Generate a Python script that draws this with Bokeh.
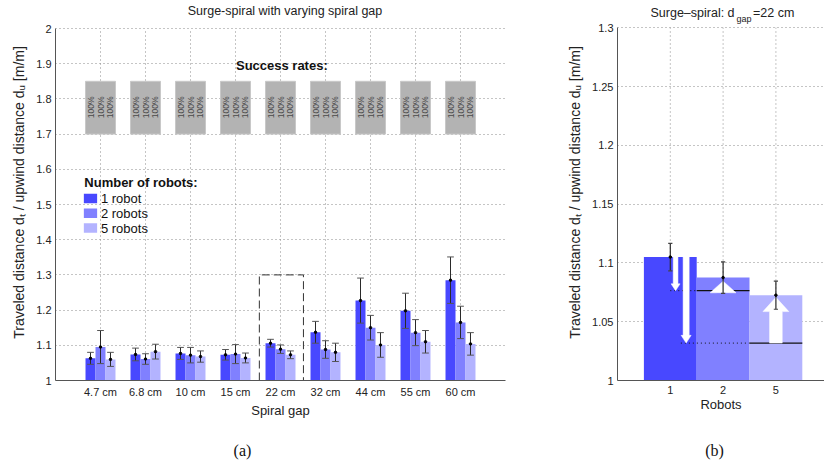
import math
from bokeh.plotting import figure
from bokeh.layouts import row, column
from bokeh.models import FixedTicker, Range1d
from bokeh.core.properties import value
from bokeh.embed import file_html
from bokeh.resources import INLINE

FONT = "Liberation Sans"
SERIF = "Liberation Serif"

# ---------------- data (left panel) ----------------
gaps = ["4.7 cm", "6.8 cm", "10 cm", "15 cm", "22 cm", "32 cm", "44 cm", "55 cm", "60 cm"]
mean_1 = [1.063, 1.074, 1.077, 1.073, 1.106, 1.137, 1.227, 1.198, 1.285]
mean_2 = [1.095, 1.061, 1.072, 1.075, 1.089, 1.088, 1.150, 1.136, 1.165]
mean_5 = [1.060, 1.082, 1.068, 1.064, 1.073, 1.080, 1.101, 1.110, 1.104]
err_1 = [0.017, 0.018, 0.017, 0.015, 0.011, 0.031, 0.064, 0.050, 0.066]
err_2 = [0.047, 0.015, 0.022, 0.027, 0.012, 0.025, 0.035, 0.037, 0.046]
err_5 = [0.020, 0.021, 0.016, 0.014, 0.011, 0.026, 0.035, 0.032, 0.032]
success_1 = [100, 100, 100, 100, 100, 100, 100, 100, 100]
success_2 = [100, 100, 100, 100, 100, 100, 100, 100, 100]
success_5 = [100, 100, 100, 100, 100, 100, 100, 100, 100]
series_names = ["1 robot", "2 robots", "5 robots"]
y_ticks_left = [1.0, 1.1, 1.2, 1.3, 1.4, 1.5, 1.6, 1.7, 1.8, 1.9, 2.0]
y_labels_left = ["1", "1.1", "1.2", "1.3", "1.4", "1.5", "1.6", "1.7", "1.8", "1.9", "2"]

# ---------------- data (right panel, d_gap = 22 cm) ----------------
robots = ["1", "2", "5"]
mean_22 = [1.105, 1.0875, 1.0726]
err_22 = [0.0117, 0.0134, 0.0120]
expected_22 = [1.105, 1.0764, 1.0318]   # ideal levels (1-robot distance shared)
y_ticks_right = [1.0, 1.05, 1.1, 1.15, 1.2, 1.25, 1.3]
y_labels_right = ["1", "1.05", "1.1", "1.15", "1.2", "1.25", "1.3"]

captions = ["(a)", "(b)"]

COLORS = ["#4848ff", "#8080ff", "#b3b3ff"]
GRID = "#8a8a8a"
AX = "#555555"


def style_axes(p, fs="11px"):
    for ax in (p.xaxis[0], p.yaxis[0]):
        ax.axis_line_color = AX
        ax.major_tick_in = 0
        ax.major_tick_out = 0
        ax.minor_tick_line_color = None
        ax.major_label_text_font = FONT
        ax.major_label_text_font_size = fs
        ax.major_label_text_color = "#222222"
        ax.axis_label_text_font = FONT
        ax.axis_label_text_font_style = "normal"
        ax.axis_label_text_font_size = "13px"
        ax.axis_label_text_color = "#222222"
    p.yaxis.axis_label_text_font_size = "14px"
    p.xgrid.grid_line_color = None
    p.ygrid.grid_line_color = GRID
    p.ygrid.grid_line_dash = "1 3"
    p.outline_line_color = None
    p.background_fill_color = "white"
    p.border_fill_color = "white"


# ================= left panel =================
SCALE_L = 352.0
YTOP_L = 2.0 + (28 - 4) / SCALE_L
p1 = figure(width=560, height=430, x_range=Range1d(0, 10), y_range=Range1d(1, YTOP_L),
            output_backend="svg", toolbar_location=None, title_location=None,
            min_border_left=55, min_border_right=55, min_border_top=4, min_border_bottom=50)
style_axes(p1)

xpos = list(range(1, len(gaps) + 1))
p1.xaxis.ticker = FixedTicker(ticks=xpos)
p1.xaxis.major_label_overrides = {x: g for x, g in zip(xpos, gaps)}
p1.xaxis.axis_label = "Spiral gap"
p1.xaxis.axis_label_standoff = 2
p1.xaxis.major_label_standoff = 5
p1.yaxis.ticker = FixedTicker(ticks=y_ticks_left)
p1.yaxis.major_label_overrides = {t: l for t, l in zip(y_ticks_left, y_labels_left)}
p1.yaxis.bounds = (1.0, 2.0)
p1.yaxis.axis_label = "Traveled distance d\u209c / upwind distance d\u1d64 [m/m]"
p1.yaxis.major_label_standoff = 4
p1.yaxis.axis_label_standoff = 6

# vertical grid lines up to the top of the axis
p1.segment(x0=xpos, y0=[1.0] * len(xpos), x1=xpos, y1=[2.0] * len(xpos),
           line_color=GRID, line_dash="1 3", level="underlay")

# title
p1.text(x=[5.1], y=[2.0 + 18 / SCALE_L], text=["Surge-spiral with varying spiral gap"],
        text_align="center", text_baseline="middle", text_font=value(FONT),
        text_font_size="12.5px", text_color="#222222")

BW = 0.222
offsets = [-BW, 0.0, BW]
means = [mean_1, mean_2, mean_5]
errs = [err_1, err_2, err_5]
succ = [success_1, success_2, success_5]

# success-rate boxes
p1.quad(left=[x - 1.5 * BW for x in xpos], right=[x + 1.5 * BW for x in xpos],
        bottom=1.7, top=1.85, fill_color="#b3b3b3", line_color="#c8c8c8", line_width=1)
for k in range(3):
    p1.text(x=[x + offsets[k] for x in xpos], y=[1.776] * len(xpos),
            text=["%d%%" % s for s in succ[k]], angle=math.pi / 2,
            text_align="center", text_baseline="middle",
            text_font=value(FONT), text_font_size="8.5px", text_color="#4a4a4a")
p1.text(x=[5.03], y=[1.895], text=["Success rates:"], text_align="center",
        text_baseline="middle", text_font=value(FONT), text_font_size="13px",
        text_font_style="bold", text_color="#111111")

# bars + error bars
for k in range(3):
    xs = [x + offsets[k] for x in xpos]
    p1.vbar(x=xs, width=BW, top=means[k], bottom=1, fill_color=COLORS[k], line_color=None)
    lo = [m - e for m, e in zip(means[k], errs[k])]
    hi = [m + e for m, e in zip(means[k], errs[k])]
    p1.segment(x0=xs, y0=lo, x1=xs, y1=hi, line_color="#2a2a2a", line_width=1)
    cw = 0.075
    p1.segment(x0=[x - cw for x in xs], y0=lo, x1=[x + cw for x in xs], y1=lo,
               line_color="#555555", line_width=1)
    p1.segment(x0=[x - cw for x in xs], y0=hi, x1=[x + cw for x in xs], y1=hi,
               line_color="#555555", line_width=1)
    p1.scatter(x=xs, y=means[k], size=2.5, color="black")

# highlight of the 22 cm group (range of right panel)
hx = gaps.index("22 cm") + 1
p1.line(x=[hx - 0.47, hx - 0.47, hx + 0.51, hx + 0.51],
        y=[1.0, y_ticks_right[-1], y_ticks_right[-1], 1.0],
        line_color="#333333", line_dash="8 4", line_width=1)

# manual legend
p1.text(x=[0.64], y=[1.5625], text=["Number of robots:"], text_align="left",
        text_baseline="middle", text_font=value(FONT), text_font_size="13px",
        text_font_style="bold", text_color="#111111")
leg_y = [1.517, 1.475, 1.433]
p1.quad(left=[0.63] * 3, right=[0.925] * 3, bottom=[y - 0.0135 for y in leg_y],
        top=[y + 0.0135 for y in leg_y], fill_color=COLORS, line_color=None)
p1.text(x=[1.01] * 3, y=leg_y, text=series_names, text_align="left",
        text_baseline="middle", text_font=value(FONT), text_font_size="13px",
        text_color="#111111")

# ================= right panel =================
SCALE_R = 1178.0      # px per unit of the right y axis
XR = 207 / 52.8
YTOP = 1.3 + (27.3 - 4) / SCALE_R
p2 = figure(width=264, height=430, x_range=Range1d(0, XR), y_range=Range1d(1, YTOP),
            output_backend="svg", toolbar_location=None, title_location=None,
            min_border_left=57, min_border_right=0, min_border_top=4, min_border_bottom=49)
style_axes(p2)
rx = [1, 2, 3]
p2.xaxis.ticker = FixedTicker(ticks=rx)
p2.xaxis.major_label_overrides = {x: r for x, r in zip(rx, robots)}
p2.xaxis.axis_label = "Robots"
p2.xaxis.axis_label_standoff = 0
p2.xaxis.major_label_standoff = 5
p2.yaxis.ticker = FixedTicker(ticks=y_ticks_right)
p2.yaxis.major_label_overrides = {t: l for t, l in zip(y_ticks_right, y_labels_right)}
p2.yaxis.bounds = (1.0, 1.3)
p2.yaxis.axis_label = "Traveled distance d\u209c / upwind distance d\u1d64 [m/m]"
p2.yaxis.major_label_standoff = 4
p2.yaxis.axis_label_standoff = 6

# vertical grid only up to 1.3
p2.segment(x0=rx, y0=[1.0] * 3, x1=rx, y1=[1.3] * 3, line_color=GRID, line_dash="1 3",
           level="underlay")

p2.vbar(x=rx, width=1.0, top=mean_22, bottom=1, fill_color=COLORS, line_color=None)

# expected levels: dotted extension + solid line over the bar
p2.line(x=[1.0, 1.5], y=[expected_22[1]] * 2, line_color="#111111", line_dash="1 3")
p2.line(x=[1.5, 2.5], y=[expected_22[1]] * 2, line_color="#111111", line_width=1.2)
p2.line(x=[1.2, 2.5], y=[expected_22[2]] * 2, line_color="#111111", line_dash="1 3")
p2.line(x=[2.5, 3.5], y=[expected_22[2]] * 2, line_color="#111111", line_width=1.2)


def arrow(x, y0, y1, shaft_w, head_w, head_len):
    d = 1 if y1 > y0 else -1
    yb = y1 - d * head_len
    xs = [x - shaft_w / 2, x - shaft_w / 2, x - head_w / 2, x, x + head_w / 2,
          x + shaft_w / 2, x + shaft_w / 2]
    ys = [y0, yb, yb, y1, yb, yb, y0]
    return xs, ys


arrows = [
    arrow(1.10, mean_22[0], expected_22[1], 0.09, 0.17, 0.0058),
    arrow(1.30, mean_22[0], expected_22[2], 0.115, 0.19, 0.0066),
    arrow(2.00, expected_22[1] - 0.0017, mean_22[1] - 0.003, 0.24, 0.49, 0.0099),
    arrow(3.00, expected_22[2], mean_22[2] - 0.0018, 0.24, 0.49, 0.0122),
]
p2.patches(xs=[a[0] for a in arrows], ys=[a[1] for a in arrows],
           fill_color="white", line_color="white", line_width=0.5)

lo = [m - e for m, e in zip(mean_22, err_22)]
hi = [m + e for m, e in zip(mean_22, err_22)]
p2.segment(x0=rx, y0=lo, x1=rx, y1=hi, line_color="#2a2a2a", line_width=1.2)
cw = 0.04
p2.segment(x0=[x - cw for x in rx], y0=lo, x1=[x + cw for x in rx], y1=lo,
           line_color="#444444", line_width=1.2)
p2.segment(x0=[x - cw for x in rx], y0=hi, x1=[x + cw for x in rx], y1=hi,
           line_color="#444444", line_width=1.2)
p2.scatter(x=rx, y=mean_22, size=2.5, color="black")

# title with subscript (drawn inside the extended frame)
p2.text(x=[0.625, 2.566], y=[1.3124, 1.3124], text=["Surge\u2013spiral: d", "=22 cm"],
        text_align="left", text_baseline="alphabetic", text_font=value(FONT),
        text_font_size="12.5px", text_color="#222222")
p2.text(x=[2.254], y=[1.3075], text=["gap"], text_align="left", text_baseline="alphabetic",
        text_font=value(FONT), text_font_size="9px", text_color="#222222")

# ================= caption strip =================
pc = figure(width=824, height=38, x_range=Range1d(0, 824), y_range=Range1d(38, 0),
            output_backend="svg", toolbar_location=None, title_location=None,
            min_border=0)
pc.axis.visible = False
pc.grid.grid_line_color = None
pc.outline_line_color = None
pc.text(x=[242, 714], y=[20, 20], text=captions, text_align="center",
        text_baseline="middle", text_font=value(SERIF), text_font_size="16px",
        text_color="#111111")

layout = column(row(p1, p2), pc)
open("out.html", "w").write(file_html(layout, INLINE))
